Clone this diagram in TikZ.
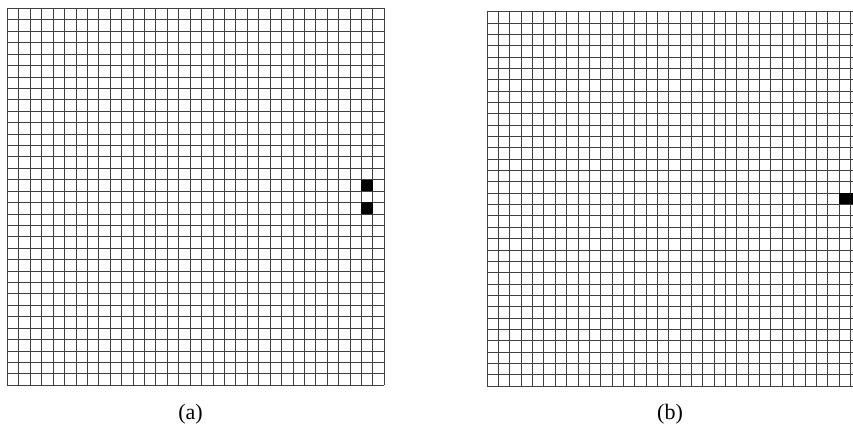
\documentclass[tikz,border=0pt]{standalone}
\usepackage{fontspec}
\setmainfont{Liberation Serif}
\begin{document}
\begin{tikzpicture}[x=1pt,y=-1pt,
  gridline/.style={black!75,line width=0.6pt},
  livecell/.style={fill=black,draw=none},
  caption/.style={font=\fontsize{22}{26}\selectfont,inner sep=0pt}]
\useasboundingbox (0,0) rectangle (853,435);
\clip (0,0) rectangle (853,435);
% grid (a)
\foreach \i in {0,...,33}{
  \draw[gridline] ({7.3+\i*11.42},8.3) -- ({7.3+\i*11.42},385.2);
  \draw[gridline] (7.3,{8.3+\i*11.42}) -- (384.2,{8.3+\i*11.42});
}
\fill[livecell] ({7.3+31*11.42},{8.3+15*11.42}) rectangle ++(11.42,11.42);
\fill[livecell] ({7.3+31*11.42},{8.3+17*11.42}) rectangle ++(11.42,11.42);
% grid (b)
\foreach \i in {0,...,33}{
  \draw[gridline] ({487+\i*11.35},11.5) -- ({487+\i*11.35},386);
  \draw[gridline] (487,{11.5+\i*11.35}) -- ({487+33*11.35},{11.5+\i*11.35});
}
\fill[livecell] ({487+31*11.35},{11.5+16*11.35}) rectangle ++(22.7,11.35);
% captions
\node[caption] (capa) at (190.5,414.5) {(a)};
\node[caption] (capb) at (670,414.5) {(b)};
\end{tikzpicture}
\end{document}
